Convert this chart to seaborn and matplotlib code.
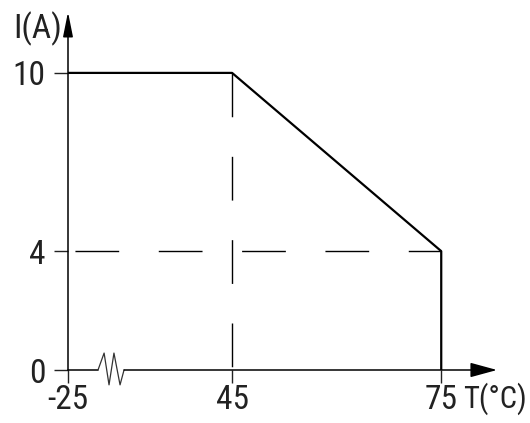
import numpy as np
import matplotlib
matplotlib.use("Agg")
import matplotlib.pyplot as plt
from matplotlib import font_manager
import seaborn as sns

# derating curve: current vs ambient temperature
temps = [-25, 45, 75, 75]
current = [10, 10, 4, 0]

x_ticks = [-25, 45, 75]
y_ticks = [0, 4, 10]
knee_t = 45
end_t = 75
end_i = 4

# axis break squiggle (temperature, current)
break_t = [-12.2, -9.6, -7.5, -5.4, -2.8, -1.1]
break_i = [0, 0.57, -0.5, 0.57, -0.5, 0]

sns.set_style("white")

# pick a narrow face if one is there
installed = {f.name for f in font_manager.fontManager.ttflist}
narrow = [f for f in ['Liberation Sans Narrow', 'Roboto Condensed',
                      'Open Sans Condensed', 'DejaVu Sans Condensed']
          if f in installed]
if narrow:
    family = [narrow[0], 'DejaVu Sans']
    fsize = 24
else:
    family = ['Liberation Sans', 'DejaVu Sans']
    fsize = 22
plt.rcParams['font.family'] = family
plt.rcParams['lines.scale_dashes'] = False

# broken x axis: the part below 45 is squeezed
k = (164 / 70) / (209 / 30)
def fwd(t):
    t = np.asarray(t, dtype=float)
    return np.where(t <= knee_t, knee_t + (t - knee_t) * k, t)
def inv(u):
    u = np.asarray(u, dtype=float)
    return np.where(u <= knee_t, knee_t + (u - knee_t) / k, u)

fig = plt.figure(figsize=(5.3, 4.23), dpi=100)
ax = fig.add_axes([68 / 530, 53 / 423, 429 / 530, 358 / 423])

sns.lineplot(x=temps, y=current, sort=False, estimator=None, color='black',
             linewidth=1.6, ax=ax)

ax.plot([knee_t, knee_t], [10, 0], color='black', lw=1.0,
        linestyle=(0, (31.5, 28.5)))
ax.plot([-25, end_t], [end_i, end_i], color='black', lw=1.0,
        linestyle=(55, (31.5, 28.5)))

ax.set_xscale('function', functions=(fwd, inv))
ax.set_xlim(-25, 83)
ax.set_ylim(0, 12.05)

for s in ax.spines.values():
    s.set_visible(False)

# x axis with break and arrow
ax.plot([-25, break_t[0]], [0, 0], color='black', lw=1.1, clip_on=False)
ax.plot(break_t, break_i, color='#333333', lw=0.9, clip_on=False)
ax.annotate('', xy=(1, 0), xycoords=('axes fraction', 'data'),
            xytext=(break_t[-1], 0), textcoords='data',
            arrowprops=dict(arrowstyle='-|>,head_length=1.65,head_width=0.45',
                            mutation_scale=10, color='black', lw=1.1,
                            shrinkA=0, shrinkB=0))
# y axis with arrow
ax.annotate('', xy=(0, 1), xycoords='axes fraction',
            xytext=(0, 0), textcoords='axes fraction',
            arrowprops=dict(arrowstyle='-|>,head_length=1.5,head_width=0.3',
                            mutation_scale=10, color='black', lw=1.1,
                            shrinkA=0, shrinkB=0))

ax.set_xticks(x_ticks)
ax.set_xticklabels([str(t) for t in x_ticks])
ax.set_yticks(y_ticks)
ax.set_yticklabels([str(t) for t in y_ticks])
ax.minorticks_off()
ax.tick_params(axis='x', direction='out', length=9.5, width=1.0, pad=0.5,
               labelsize=fsize, colors='#222222', bottom=True)
ax.tick_params(axis='y', direction='out', length=10, width=1.0, pad=6,
               labelsize=fsize, colors='#222222', left=True)
ax.grid(False)

ax.text(-0.014, 11.5, 'I(A)', transform=ax.get_yaxis_transform(),
        ha='right', va='center', fontsize=fsize, color='#222222')
ax.text(87.3, -0.95, 'T(°C)', ha='right', va='center', fontsize=fsize - 2,
        color='#222222', clip_on=False)

fig.savefig('out.png', dpi=100)
